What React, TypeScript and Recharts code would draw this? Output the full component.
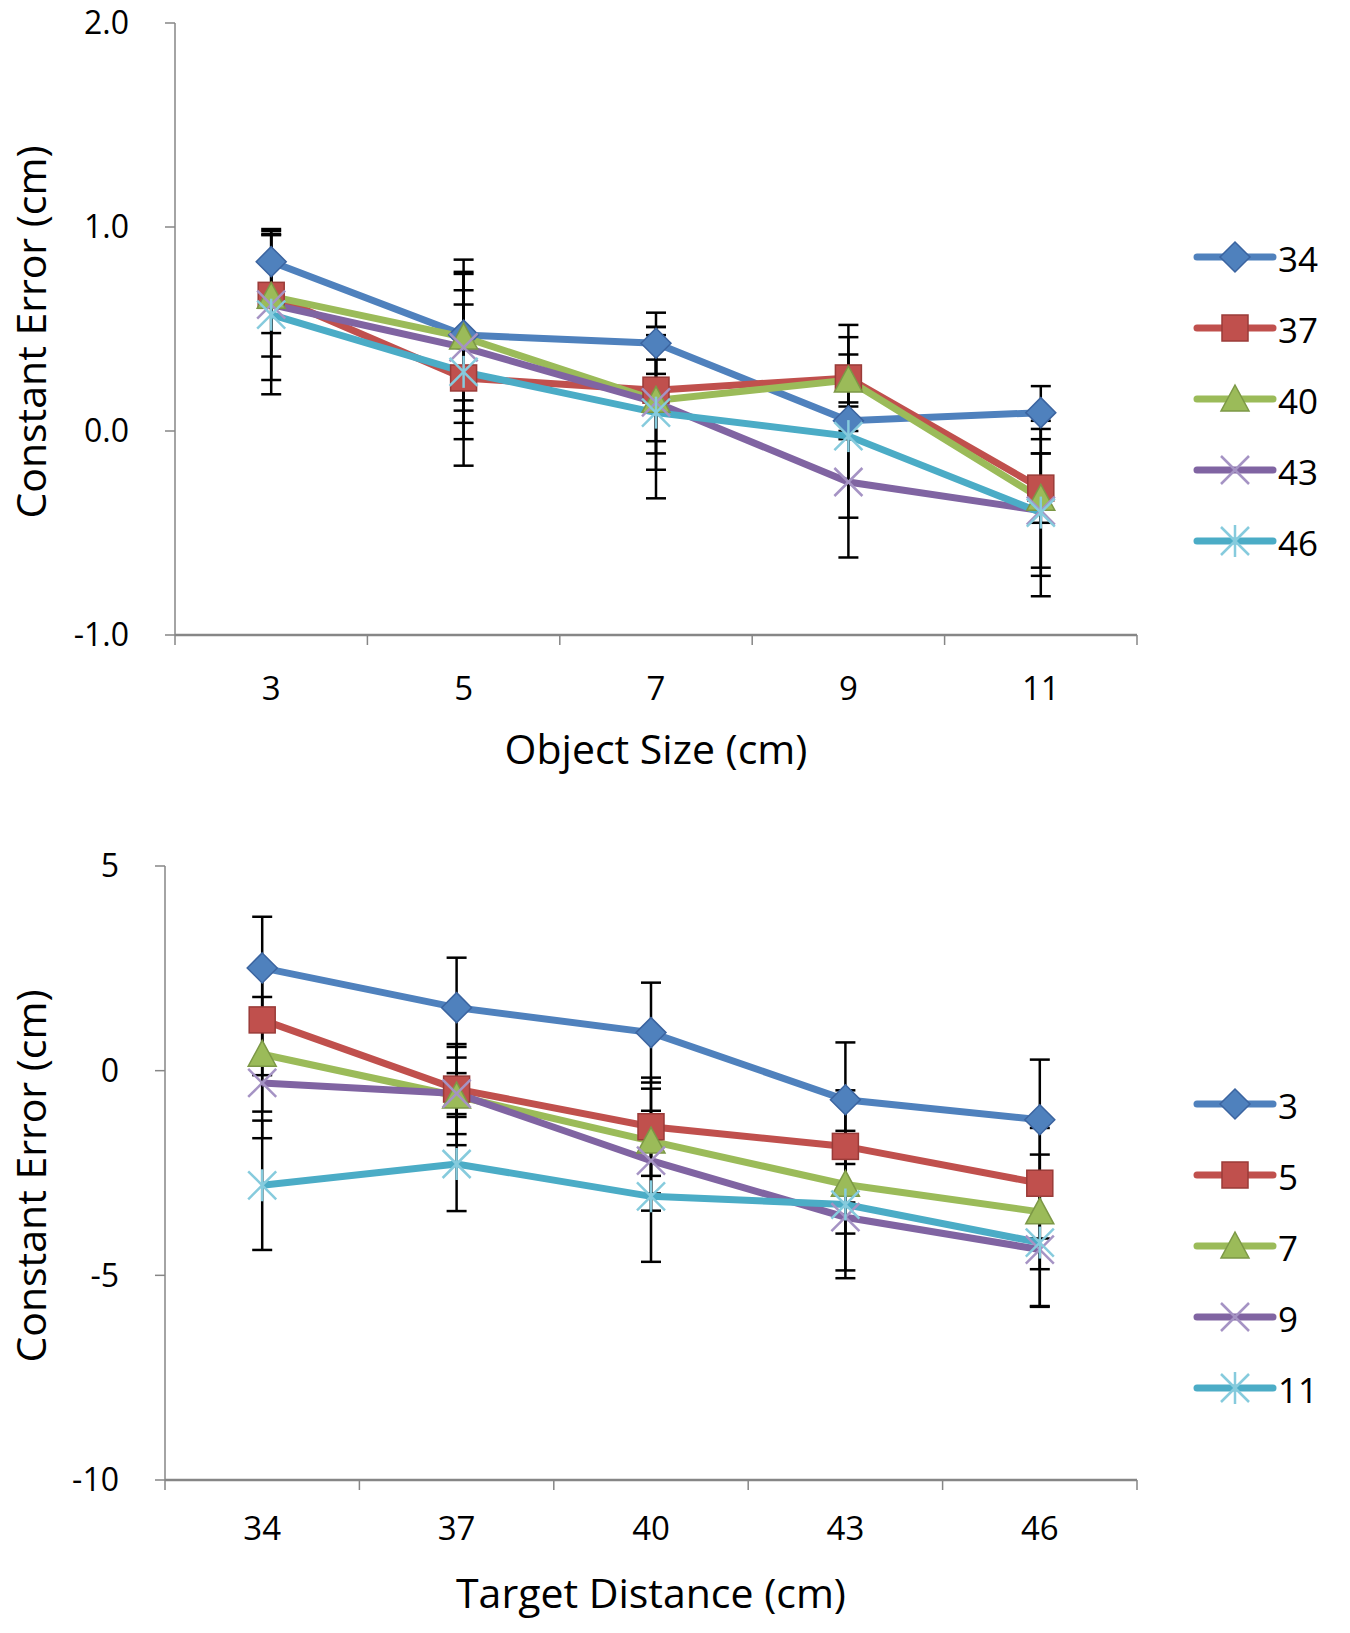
import React from 'react';
import { LineChart, Line, XAxis, YAxis, ErrorBar, Legend, Label } from 'recharts';

// ---------- data ----------
const sizeCategories = ['3', '5', '7', '9', '11'];
const distanceNames = ['34', '37', '40', '43', '46'];
const topValues34 = [0.83, 0.47, 0.43, 0.05, 0.09];
const topValues37 = [0.665, 0.26, 0.2, 0.26, -0.28];
const topValues40 = [0.66, 0.46, 0.15, 0.25, -0.33];
const topValues43 = [0.62, 0.41, 0.14, -0.25, -0.39];
const topValues46 = [0.57, 0.29, 0.09, -0.025, -0.4];
const topErr34 = [0.15, 0.37, 0.15, 0.09, 0.13];
const topErr37 = [0.3, 0.43, 0.31, 0.26, 0.17];
const topErr40 = [0.18, 0.31, 0.2, 0.21, 0.38];
const topErr43 = [0.37, 0.37, 0.33, 0.37, 0.28];
const topErr46 = [0.39, 0.33, 0.42, 0.4, 0.41];
const topTicks = [-1, 0, 1, 2];

const distanceCategories = ['34', '37', '40', '43', '46'];
const sizeNames = ['3', '5', '7', '9', '11'];
const botValues3 = [2.51, 1.54, 0.93, -0.71, -1.2];
const botValues5 = [1.24, -0.45, -1.37, -1.85, -2.75];
const botValues7 = [0.4, -0.62, -1.72, -2.78, -3.45];
const botValues9 = [-0.3, -0.56, -2.2, -3.58, -4.37];
const botValues11 = [-2.8, -2.28, -3.07, -3.27, -4.2];
const botErr3 = [1.25, 1.22, 1.22, 1.4, 1.47];
const botErr5 = [1.35, 1.1, 1.2, 1.37, 1.35];
const botErr7 = [1.4, 1.2, 1.28, 1.2, 1.4];
const botErr9 = [1.35, 0.5, 1.22, 1.3, 1.4];
const botErr11 = [1.58, 1.15, 1.6, 1.8, 1.55];
const bottomTicks = [-10, -5, 0, 5];

// ---------- styles ----------
const COLORS = ['#4F81BD', '#C0504D', '#9BBB59', '#8064A2', '#4BACC6'];
const EDGE = ['#3B64A0', '#9A3B38', '#7C9846', '#6A528A', '#3A90A8'];
const SHAPES = ['diamond', 'square', 'triangle', 'x', 'star'];
const AXIS = '#868686';
const FONT = '"Open Sans", sans-serif';

const buildRows = (cats: string[], vals: number[][], errs: number[][]) =>
  cats.map((c, i) => {
    const row: any = { cat: c };
    vals.forEach((v, k) => {
      row['s' + k] = v[i];
      row['e' + k] = errs[k][i];
    });
    return row;
  });

const topRows = buildRows(
  sizeCategories,
  [topValues34, topValues37, topValues40, topValues43, topValues46],
  [topErr34, topErr37, topErr40, topErr43, topErr46]
);
const botRows = buildRows(
  distanceCategories,
  [botValues3, botValues5, botValues7, botValues9, botValues11],
  [botErr3, botErr5, botErr7, botErr9, botErr11]
);

function Marker({ shape, cx, cy, k }: any) {
  const color = COLORS[k];
  const edge = EDGE[k];
  if (cx == null || cy == null) return null;
  switch (shape) {
    case 'diamond': {
      const r = 15;
      return (
        <polygon
          points={`${cx},${cy - r} ${cx + r},${cy} ${cx},${cy + r} ${cx - r},${cy}`}
          fill={color}
          stroke={edge}
          strokeWidth={1.5}
        />
      );
    }
    case 'square': {
      const h = 13;
      return <rect x={cx - h} y={cy - h} width={2 * h} height={2 * h} fill={color} stroke={edge} strokeWidth={1.5} />;
    }
    case 'triangle': {
      const h = 14;
      return (
        <polygon
          points={`${cx},${cy - h} ${cx + h},${cy + h * 0.85} ${cx - h},${cy + h * 0.85}`}
          fill={color}
          stroke={edge}
          strokeWidth={1.5}
        />
      );
    }
    case 'x': {
      const r = 14;
      return (
        <g stroke="#A593C4" strokeWidth={2.5}>
          <line x1={cx - r} y1={cy - r} x2={cx + r} y2={cy + r} />
          <line x1={cx - r} y1={cy + r} x2={cx + r} y2={cy - r} />
        </g>
      );
    }
    default: {
      const r = 14;
      return (
        <g stroke="#86CBDD" strokeWidth={2.5}>
          <line x1={cx - r} y1={cy - r} x2={cx + r} y2={cy + r} />
          <line x1={cx - r} y1={cy + r} x2={cx + r} y2={cy - r} />
          <line x1={cx} y1={cy - r - 2} x2={cx} y2={cy + r + 2} />
        </g>
      );
    }
  }
}

const makeXTick = (band: number, count: number, labelOffset: number) => (props: any) => {
  const { x, y, payload, index } = props;
  return (
    <g>
      <line x1={x - band / 2} y1={y} x2={x - band / 2} y2={y + 10} stroke={AXIS} strokeWidth={1.5} />
      {index === count - 1 && (
        <line x1={x + band / 2} y1={y} x2={x + band / 2} y2={y + 10} stroke={AXIS} strokeWidth={1.5} />
      )}
      <text
        x={x}
        y={y + labelOffset}
        textAnchor="middle"
        dominantBaseline="central"
        fontSize={33}
        fontFamily={FONT}
        fill="#000"
      >
        {payload.value}
      </text>
    </g>
  );
};

const makeLegend = (names: string[]) => () => (
  <svg width={160} height={340} style={{ overflow: 'visible' }}>
    {names.map((n: string, i: number) => {
      const y = 27 + i * 71;
      return (
        <g key={i}>
          <line x1={7} y1={y} x2={83} y2={y} stroke={COLORS[i]} strokeWidth={7} strokeLinecap="round" />
          <Marker shape={SHAPES[i]} cx={45} cy={y} k={i} />
          <text x={88} y={y + 1} dominantBaseline="central" fontSize={35} fontFamily={FONT} fill="#000">
            {n}
          </text>
        </g>
      );
    })}
  </svg>
);

function Panel({
  rows,
  names,
  domain,
  ticks,
  fmt,
  width,
  height,
  margin,
  yAxisWidth,
  xTitle,
  legendTop,
  labelOffset,
  titleOffset,
}: any) {
  const plotW = width - yAxisWidth - margin.right;
  const band = plotW / rows.length;
  return (
    <LineChart width={width} height={height} data={rows} margin={margin}>
      <XAxis
        dataKey="cat"
        height={120}
        stroke={AXIS}
        strokeWidth={2.5}
        tickLine={false}
        tickSize={0}
        tickMargin={0}
        padding={{ left: band / 2, right: band / 2 }}
        tick={makeXTick(band, rows.length, labelOffset)}
        interval={0}
      >
        <Label
          content={(p: any) => {
            const vb = p.viewBox;
            return (
              <text
                x={vb.x + vb.width / 2}
                y={vb.y + titleOffset}
                textAnchor="middle"
                dominantBaseline="central"
                fontSize={41}
                fontFamily={FONT}
                fill="#000"
              >
                {xTitle}
              </text>
            );
          }}
        />
      </XAxis>
      <YAxis
        type="number"
        domain={domain}
        ticks={ticks}
        interval={0}
        width={yAxisWidth}
        stroke={AXIS}
        strokeWidth={1.5}
        tickSize={10}
        tickMargin={36}
        tickFormatter={fmt}
        tick={{ fill: '#000', fontSize: 32, fontFamily: FONT }}
      >
        <Label
          content={(p: any) => {
            const vb = p.viewBox;
            const cy = vb.y + vb.height / 2 + 3;
            return (
              <text
                x={30}
                y={cy}
                transform={`rotate(-90 30 ${cy})`}
                textAnchor="middle"
                dominantBaseline="central"
                fontSize={41}
                fontFamily={FONT}
                fill="#000"
              >
                Constant Error (cm)
              </text>
            );
          }}
        />
      </YAxis>
      <Legend
        layout="vertical"
        align="right"
        verticalAlign="top"
        content={makeLegend(names)}
        wrapperStyle={{ position: 'absolute', left: 1190, top: legendTop, width: 0, height: 0, overflow: 'visible' }}
      />
      {names.map((n: string, k: number) => (
        <Line
          key={n}
          name={n}
          dataKey={'s' + k}
          stroke={COLORS[k]}
          strokeWidth={7}
          isAnimationActive={false}
          activeDot={false}
          dot={(p: any) => <Marker key={'m' + k + '-' + p.index} shape={SHAPES[k]} cx={p.cx} cy={p.cy} k={k} />}
        >
          <ErrorBar dataKey={'e' + k} width={10} strokeWidth={2.5} stroke="#000" direction="y" isAnimationActive={false} />
        </Line>
      ))}
    </LineChart>
  );
}

export default function App() {
  return (
    <div style={{ width: 1350, height: 1633, position: 'absolute', left: 0, top: 0, background: '#fff' }}>
      <div style={{ position: 'absolute', left: 0, top: 0 }}>
        <Panel
          rows={topRows}
          names={distanceNames}
          domain={[-1, 2]}
          ticks={topTicks}
          fmt={(v: number) => v.toFixed(1)}
          width={1350}
          height={800}
          margin={{ top: 23, right: 213, left: 0, bottom: 45 }}
          yAxisWidth={175}
          xTitle="Object Size (cm)"
          legendTop={230}
          labelOffset={52}
          titleOffset={113}
        />
      </div>
      <div style={{ position: 'absolute', left: 0, top: 820 }}>
        <Panel
          rows={botRows}
          names={sizeNames}
          domain={[-10, 5]}
          ticks={bottomTicks}
          fmt={(v: number) => String(v)}
          width={1350}
          height={813}
          margin={{ top: 46, right: 213, left: 0, bottom: 33 }}
          yAxisWidth={165}
          xTitle="Target Distance (cm)"
          legendTop={257}
          labelOffset={47}
          titleOffset={112}
        />
      </div>
    </div>
  );
}
